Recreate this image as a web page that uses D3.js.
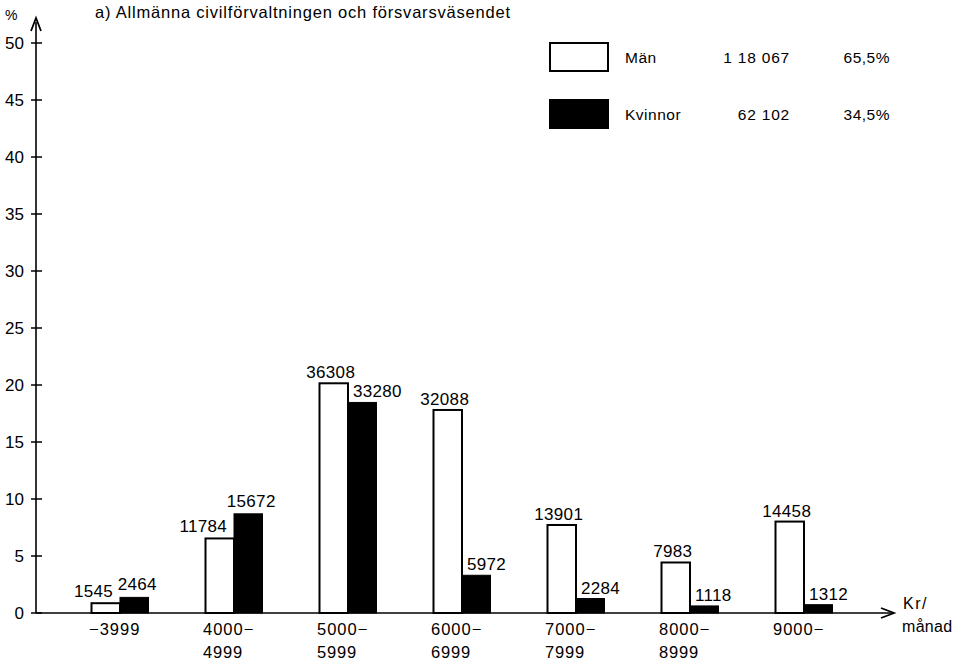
<!DOCTYPE html>
<html>
<head>
<meta charset="utf-8">
<script src="https://cdn.jsdelivr.net/npm/d3@7"></script>
<style>
  html, body { margin: 0; padding: 0; background: #fff; }
  svg { display: block; font-family: "Liberation Sans", Arial, Helvetica, sans-serif; }
</style>
</head>
<body>
<svg id="chart" width="959" height="665"></svg>
<script>
// ---- Data ----
const categories = ["-3999", "4000-4999", "5000-5999", "6000-6999", "7000-7999", "8000-8999", "9000-"];
const catLine1 = ["\u22123999", "4000\u2212", "5000\u2212", "6000\u2212", "7000\u2212", "8000\u2212", "9000\u2212"];
const catLine2 = ["", "4999", "5999", "6999", "7999", "8999", ""];
const menPct = [0.86, 6.54, 20.15, 17.81, 7.72, 4.43, 8.02];
const womenPct = [1.37, 8.70, 18.47, 3.31, 1.27, 0.62, 0.73];
const menCount = ["1545", "11784", "36308", "32088", "13901", "7983", "14458"];
const womenCount = ["2464", "15672", "33280", "5972", "2284", "1118", "1312"];
const yTicks = [0, 5, 10, 15, 20, 25, 30, 35, 40, 45, 50];
const legendNames = ["Män", "Kvinnor"];
const legendTotals = ["1 18 067", "62 102"];
const legendShares = ["65,5%", "34,5%"];
const title = "a)  Allmänna civilförvaltningen och försvarsväsendet";

// ---- Layout ----
const svg = d3.select("#chart");
const axisX = 36, baseY = 613;
const y = d3.scaleLinear().domain([0, 50]).range([baseY, 43]);
const x = d3.scaleBand().domain(categories).range([63, 861]).padding(0);
const barW = 28.5;
const sub = d3.scaleBand().domain(["m", "w"])
  .range([x.bandwidth() / 2 - barW, x.bandwidth() / 2 + barW]).padding(0);

// title
svg.append("text").attr("x", 95).attr("y", 18).attr("font-size", 16.5)
  .attr("textLength", 415).attr("lengthAdjust", "spacing").text(title);
svg.append("text").attr("x", 5).attr("y", 20).attr("font-size", 14).text("%");

// y axis line + arrow
svg.append("line").attr("x1", axisX).attr("x2", axisX).attr("y1", baseY).attr("y2", 22)
  .attr("stroke", "#000").attr("stroke-width", 1.6);
svg.append("path").attr("d", `M${axisX - 5},31 L${axisX},18 L${axisX + 5},31`)
  .attr("fill", "none").attr("stroke", "#000").attr("stroke-width", 1.8);

// y ticks
const yt = svg.append("g");
yTicks.forEach(t => {
  yt.append("line").attr("x1", axisX - 5).attr("x2", axisX + 6)
    .attr("y1", y(t)).attr("y2", y(t)).attr("stroke", "#000").attr("stroke-width", 1.5);
  yt.append("text").attr("x", 24).attr("y", y(t)).attr("dy", "0.36em")
    .attr("text-anchor", "end").attr("font-size", 17).text(t);
});

// x axis line + arrow
svg.append("line").attr("x1", axisX).attr("x2", 893).attr("y1", baseY).attr("y2", baseY)
  .attr("stroke", "#000").attr("stroke-width", 1.6);
svg.append("path").attr("d", `M881,${baseY - 5} L894,${baseY} L881,${baseY + 5}`)
  .attr("fill", "none").attr("stroke", "#000").attr("stroke-width", 1.8);
svg.append("text").attr("x", 903).attr("y", 609).attr("font-size", 16).attr("letter-spacing", 1.5).text("Kr/");
svg.append("text").attr("x", 902).attr("y", 632).attr("font-size", 16).attr("letter-spacing", 0.3).text("månad");

// bars
const g = svg.append("g");
categories.forEach((c, i) => {
  const gx = x(c);
  const mx = gx + sub("m"), wx = gx + sub("w");
  const womenTaller = womenPct[i] > menPct[i];
  g.append("rect").attr("x", mx).attr("y", y(menPct[i])).attr("width", barW)
    .attr("height", baseY - y(menPct[i])).attr("fill", "#fff").attr("stroke", "#000").attr("stroke-width", 2);
  g.append("rect").attr("x", wx).attr("y", y(womenPct[i])).attr("width", barW)
    .attr("height", baseY - y(womenPct[i])).attr("fill", "#000").attr("stroke", "#000").attr("stroke-width", 1);
  if (womenTaller) {
    g.append("text").attr("x", mx + barW - 7).attr("y", y(menPct[i]) - 6)
      .attr("text-anchor", "end").attr("font-size", 17).attr("letter-spacing", 0.3).text(menCount[i]);
    g.append("text").attr("x", wx + barW / 2 + 3).attr("y", y(womenPct[i]) - 7)
      .attr("text-anchor", "middle").attr("font-size", 17).attr("letter-spacing", 0.3).text(womenCount[i]);
  } else {
    g.append("text").attr("x", mx + barW / 2 - 3).attr("y", y(menPct[i]) - 5)
      .attr("text-anchor", "middle").attr("font-size", 17).attr("letter-spacing", 0.3).text(menCount[i]);
    g.append("text").attr("x", wx + 5).attr("y", y(womenPct[i]) - 5)
      .attr("text-anchor", "start").attr("font-size", 17).attr("letter-spacing", 0.3).text(womenCount[i]);
  }
  // category labels
  const cx = gx + x.bandwidth() / 2;
  svg.append("text").attr("x", cx - 31).attr("y", 635).attr("font-size", 16.5).attr("letter-spacing", 1).text(catLine1[i]);
  if (catLine2[i]) svg.append("text").attr("x", cx - 31).attr("y", 658).attr("font-size", 16.5).attr("letter-spacing", 0.8).text(catLine2[i]);
});

// legend
const lg = svg.append("g");
legendNames.forEach((n, i) => {
  const ly = 43 + i * 57;
  lg.append("rect").attr("x", 550).attr("y", ly).attr("width", 58).attr("height", 28)
    .attr("fill", i === 0 ? "#fff" : "#000").attr("stroke", "#000").attr("stroke-width", 2);
  lg.append("text").attr("x", 625).attr("y", ly + 20).attr("font-size", 15.5).attr("letter-spacing", 0.5).text(n);
  lg.append("text").attr("x", 790).attr("y", ly + 20).attr("text-anchor", "end").attr("font-size", 15.5).attr("letter-spacing", 0.8).text(legendTotals[i]);
  lg.append("text").attr("x", 890).attr("y", ly + 20).attr("text-anchor", "end").attr("font-size", 15.5).attr("letter-spacing", 0.5).text(legendShares[i]);
});
</script>
</body>
</html>
